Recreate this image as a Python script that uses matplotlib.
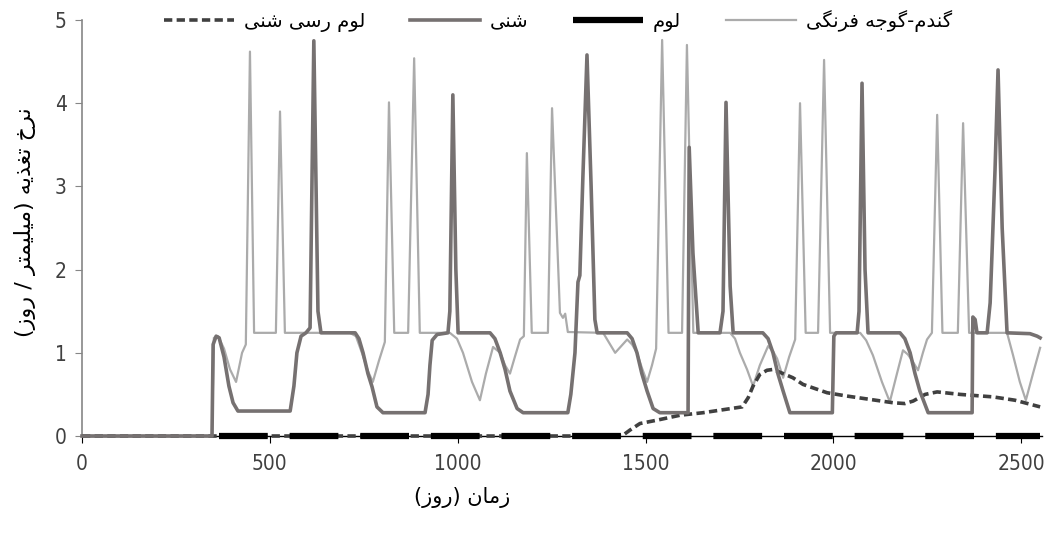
import matplotlib
matplotlib.use("Agg")
import matplotlib.pyplot as plt
from matplotlib.lines import Line2D

# ---------------- data ----------------
# wheat-tomato (light gray)
wheat_days = [0, 346, 351, 362, 378, 394, 410, 426, 436, 447, 458, 516, 527, 540,
              713, 729, 745, 761, 774, 790, 806, 817, 831, 868, 884, 899,
              979, 998, 1014, 1038, 1059, 1075, 1094, 1113, 1126, 1139, 1152, 1166, 1176, 1184, 1197,
              1240, 1251, 1272, 1280, 1286, 1293, 1387, 1403, 1419, 1435, 1451, 1464, 1477, 1490, 1504,
              1517, 1528, 1544, 1561, 1597, 1610, 1627, 1725, 1738, 1751, 1770, 1786, 1804, 1826,
              1839, 1850, 1866, 1882, 1898, 1911, 1926, 1959, 1975, 1991, 2071, 2087, 2105, 2129,
              2150, 2169, 2185, 2198, 2209, 2225, 2238, 2249, 2262, 2276, 2290, 2331, 2345, 2361,
              2462, 2478, 2496, 2512, 2531, 2550]
wheat_vals = [0, 0, 1.18, 1.2, 1.05, 0.8, 0.65, 1.0, 1.1, 4.62, 1.24, 1.24, 3.9, 1.24,
              1.24, 1.2, 1.0, 0.78, 0.65, 0.9, 1.13, 4.01, 1.24, 1.24, 4.54, 1.24,
              1.24, 1.17, 1.0, 0.65, 0.43, 0.75, 1.07, 1.0, 0.85, 0.75, 0.95, 1.16, 1.2, 3.40, 1.24,
              1.24, 3.94, 1.48, 1.42, 1.47, 1.25, 1.24, 1.12, 1.0, 1.08, 1.16, 1.1, 1.0, 0.82, 0.65,
              0.85, 1.05, 4.76, 1.24, 1.24, 4.70, 1.24, 1.24, 1.17, 1.0, 0.8, 0.6, 0.85, 1.08,
              1.02, 0.93, 0.70, 0.95, 1.16, 4.0, 1.24, 1.24, 4.52, 1.24, 1.24, 1.15, 0.97, 0.65,
              0.41, 0.75, 1.03, 0.98, 0.91, 0.79, 1.0, 1.16, 1.24, 3.86, 1.24, 1.24, 3.76, 1.24,
              1.24, 0.97, 0.65, 0.43, 0.75, 1.06]

# loam (black)
loam_days = [365, 2550]
loam_vals = [0, 0]

# sandy (dark gray)
sand_days = [0, 346, 349, 357, 365, 378, 391, 402, 415, 554, 564, 572, 583, 596, 607, 617, 628, 636,
             727, 737, 748, 761, 772, 785, 801, 913, 921, 926, 932, 945, 974, 979, 987, 995, 1001,
             1086, 1099, 1113, 1126, 1139, 1158, 1174, 1293, 1301, 1312, 1320, 1325, 1333, 1344, 1355,
             1365, 1371, 1451, 1464, 1477, 1490, 1504, 1520, 1538, 1613, 1616, 1626, 1640, 1698, 1706,
             1714, 1725, 1733, 1812, 1826, 1839, 1852, 1866, 1884, 1997, 2001, 2007, 2063, 2068, 2076,
             2084, 2092, 2177, 2190, 2204, 2217, 2230, 2252, 2369, 2371, 2377, 2382, 2409, 2417, 2422,
             2430, 2438, 2449, 2462, 2523, 2542, 2550]
sand_vals = [0, 0, 1.1, 1.2, 1.18, 0.95, 0.6, 0.4, 0.3, 0.3, 0.6, 1.0, 1.2, 1.24, 1.3, 4.75, 1.5, 1.24,
             1.24, 1.17, 1.0, 0.75, 0.59, 0.35, 0.28, 0.28, 0.5, 0.85, 1.15, 1.22, 1.24, 1.5, 4.10, 2.0, 1.24,
             1.24, 1.17, 1.0, 0.8, 0.54, 0.33, 0.28, 0.28, 0.5, 1.0, 1.85, 1.93, 3.1, 4.58, 3.0,
             1.4, 1.24, 1.24, 1.17, 1.0, 0.75, 0.54, 0.33, 0.28, 0.28, 3.47, 2.2, 1.24, 1.24, 1.5,
             4.01, 1.8, 1.24, 1.24, 1.17, 1.0, 0.75, 0.54, 0.28, 0.28, 1.2, 1.24, 1.24, 1.5, 4.24,
             2.0, 1.24, 1.24, 1.17, 1.0, 0.75, 0.54, 0.28, 0.28, 1.43, 1.4, 1.24, 1.24, 1.6, 2.2,
             3.2, 4.40, 2.5, 1.24, 1.23, 1.2, 1.18]

# sandy clay loam (dashed)
scl_days = [0, 1437, 1458, 1485, 1530, 1592, 1653, 1757, 1773, 1786, 1804, 1823, 1839, 1866, 1892,
            1919, 1983, 2036, 2097, 2158, 2190, 2212, 2244, 2276, 2337, 2425, 2483, 2550]
scl_vals = [0, 0, 0.07, 0.15, 0.19, 0.25, 0.28, 0.35, 0.46, 0.6, 0.74, 0.79, 0.80, 0.75, 0.70,
            0.62, 0.52, 0.48, 0.44, 0.40, 0.39, 0.42, 0.50, 0.53, 0.50, 0.47, 0.43, 0.35]

legend_labels = ["لوم رسی شنی", "شنی", "لوم", "گندم-گوجه فرنگی"]
xlabel = "زمان (روز)"
ylabel = "نرخ تغذیه (میلیمتر / روز)"
xticks = [0, 500, 1000, 1500, 2000, 2500]
yticks = [0, 1, 2, 3, 4, 5]

# ---------------- tiny persian shaper (matplotlib has no bidi) ----------------
FORMS = {
    'ا': ('\uFE8D', '\uFE8E', None, None),
    'د': ('\uFEA9', '\uFEAA', None, None),
    'ذ': ('\uFEAB', '\uFEAC', None, None),
    'ر': ('\uFEAD', '\uFEAE', None, None),
    'ز': ('\uFEAF', '\uFEB0', None, None),
    'و': ('\uFEED', '\uFEEE', None, None),
    'ت': ('\uFE95', '\uFE96', '\uFE97', '\uFE98'),
    'ج': ('\uFE9D', '\uFE9E', '\uFE9F', '\uFEA0'),
    'خ': ('\uFEA5', '\uFEA6', '\uFEA7', '\uFEA8'),
    'س': ('\uFEB1', '\uFEB2', '\uFEB3', '\uFEB4'),
    'ش': ('\uFEB5', '\uFEB6', '\uFEB7', '\uFEB8'),
    'غ': ('\uFECD', '\uFECE', '\uFECF', '\uFED0'),
    'ف': ('\uFED1', '\uFED2', '\uFED3', '\uFED4'),
    'ل': ('\uFEDD', '\uFEDE', '\uFEDF', '\uFEE0'),
    'م': ('\uFEE1', '\uFEE2', '\uFEE3', '\uFEE4'),
    'ن': ('\uFEE5', '\uFEE6', '\uFEE7', '\uFEE8'),
    'ه': ('\uFEE9', '\uFEEA', '\uFEEB', '\uFEEC'),
    '\u06AF': ('\uFB92', '\uFB93', '\uFB94', '\uFB95'),
    '\u06CC': ('\uFBFC', '\uFBFD', '\uFBFE', '\uFBFF'),
    '\u064A': ('\uFBFC', '\uFBFD', '\uFBFE', '\uFBFF'),
}


def shape(text):
    out = []
    for i, ch in enumerate(text):
        f = FORMS.get(ch)
        if f is None:
            out.append(ch)
            continue
        prev = FORMS.get(text[i - 1]) if i > 0 else None
        nxt = FORMS.get(text[i + 1]) if i + 1 < len(text) else None
        jp = prev is not None and prev[2] is not None
        jn = f[2] is not None and nxt is not None
        if jp and jn:
            out.append(f[3])
        elif jp:
            out.append(f[1])
        elif jn:
            out.append(f[2])
        else:
            out.append(f[0])
    s = ''.join(out)[::-1]
    return s.translate(str.maketrans('()', ')('))


# ---------------- plot ----------------
LIGHT = '#ababab'
DARK = '#767171'
DASH = '#404040'
FA_FONT = ['DejaVu Sans']

fig = plt.figure(figsize=(10.48, 5.44), dpi=100)
ax = fig.add_axes([82 / 1048, 1 - 436 / 544, 960 / 1048, 416 / 544])

ax.plot(wheat_days, wheat_vals, color=LIGHT, lw=1.6, clip_on=False, zorder=2)
ax.plot(scl_days, scl_vals, color=DASH, lw=2.6, dashes=[2.3, 1.2],
        dash_capstyle='butt', clip_on=False, zorder=3)
ax.plot(sand_days, sand_vals, color=DARK, lw=2.6, clip_on=False, zorder=4)
ax.plot(loam_days, loam_vals, color='black', lw=4.5, dashes=[7.8, 3.5],
        solid_capstyle='butt', dash_capstyle='butt', clip_on=False, zorder=5)

ax.set_xlim(0, 2555)
ax.set_ylim(0, 5)
ax.set_xticks(xticks)
ax.set_yticks(yticks)
for s in ['top', 'right']:
    ax.spines[s].set_visible(False)
ax.spines['bottom'].set_color('black')
ax.spines['bottom'].set_linewidth(1.0)
ax.spines['left'].set_color('#868686')
ax.spines['left'].set_linewidth(1.2)
ax.tick_params(axis='x', direction='out', length=5, color='black', pad=8)
ax.tick_params(axis='y', direction='out', length=5, color='#868686', pad=6)
for lab in ax.get_xticklabels() + ax.get_yticklabels():
    lab.set_family('DejaVu Sans')
    lab.set_stretch('condensed')
    lab.set_fontsize(15)
    lab.set_color('#404040')

handles = [
    Line2D([], [], color=DASH, lw=2.6, dashes=[2.3, 1.2], dash_capstyle='butt'),
    Line2D([], [], color=DARK, lw=2.6),
    Line2D([], [], color='black', lw=4.5, solid_capstyle='butt'),
    Line2D([], [], color=LIGHT, lw=1.6),
]
fig.legend(handles, [shape(t) for t in legend_labels], loc='center',
           bbox_to_anchor=(558 / 1048, 1 - 21 / 544), ncol=4, frameon=False,
           handlelength=3.6, handletextpad=0.5, columnspacing=2.3,
           prop={'family': FA_FONT, 'size': 14})

fig.text(462 / 1048, 1 - 497 / 544, shape(xlabel), ha='center', va='center',
         family=FA_FONT, fontsize=15)
fig.text(25 / 1048, 1 - 222 / 544, shape(ylabel), ha='center', va='center',
         rotation=90, family=FA_FONT, fontsize=16)

fig.savefig('out.png', dpi=100)
